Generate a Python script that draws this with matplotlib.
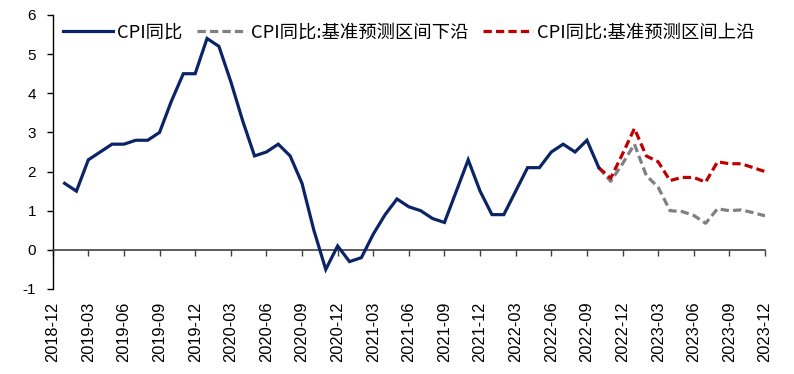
import matplotlib
matplotlib.use("Agg")
import matplotlib.pyplot as plt
import numpy as np
import pandas as pd

# ---- data ----
axis_start = "2018-12"
axis_end = "2023-12"
cpi_start = "2019-01"
cpi_yoy = [1.7, 1.5, 2.3, 2.5, 2.7, 2.7, 2.8, 2.8, 3.0, 3.8, 4.5, 4.5,
           5.4, 5.2, 4.3, 3.3, 2.4, 2.5, 2.7, 2.4, 1.7, 0.5, -0.5, 0.1,
           -0.3, -0.2, 0.4, 0.9, 1.3, 1.1, 1.0, 0.8, 0.7, 1.5, 2.3, 1.5,
           0.9, 0.9, 1.5, 2.1, 2.1, 2.5, 2.7, 2.5, 2.8, 2.1]
fc_start = "2022-10"
fc_lower = [2.1, 1.75, 2.2, 2.7, 1.9, 1.6, 1.0, 0.98, 0.88, 0.68, 1.05, 1.0, 1.02, 0.95, 0.87]
fc_upper = [2.1, 1.83, 2.45, 3.1, 2.4, 2.25, 1.77, 1.85, 1.85, 1.73, 2.25, 2.2, 2.2, 2.1, 2.0]
series_names = ["CPI同比", "CPI同比:基准预测区间下沿", "CPI同比:基准预测区间上沿"]
y_ticks = [-1, 0, 1, 2, 3, 4, 5, 6]

months = pd.period_range(axis_start, axis_end, freq="M")
month_pos = {str(p): i for i, p in enumerate(months)}

def xs(start, n):
    s = month_pos[start]
    return np.arange(s, s + n)

fig = plt.figure(figsize=(7.94, 3.74), dpi=100)
ax = fig.add_axes([52.7 / 794, 1 - 289 / 374, (765 - 52.7) / 794, (289 - 15) / 374])

lw = 2.3
ax.plot(xs(cpi_start, len(cpi_yoy)), cpi_yoy, color="#0A2466", lw=lw,
        solid_joinstyle="miter", label=series_names[0], zorder=3)
ax.plot(xs(fc_start, len(fc_lower)), fc_lower, color="#808080", lw=lw,
        linestyle=(0, (2.6, 1.3)), label=series_names[1], zorder=2)
ax.plot(xs(fc_start, len(fc_upper)), fc_upper, color="#C00000", lw=lw,
        linestyle=(0, (2.6, 1.3)), label=series_names[2], zorder=2)

ax.set_xlim(0, len(months) - 1)
ax.set_ylim(-1, 6)
ax.set_yticks(y_ticks)
ax.set_yticklabels([str(v) for v in y_ticks], fontfamily="Liberation Sans", fontsize=11)
ax.tick_params(axis="y", direction="out", length=4, width=1, pad=8, color="black")

ax.spines["top"].set_visible(False)
ax.spines["right"].set_visible(False)
ax.spines["left"].set_color("black")
ax.spines["left"].set_linewidth(1)
ax.spines["bottom"].set_position(("data", 0))
ax.spines["bottom"].set_color("#404040")
ax.spines["bottom"].set_linewidth(1.2)

tick_idx = list(range(0, len(months), 3))
tick_labels = [str(months[i]) for i in tick_idx]
ax.set_xticks(tick_idx)
ax.tick_params(axis="x", direction="out", length=4, width=1, color="#404040",
               labelbottom=False)

sec = ax.secondary_xaxis(0.0)
sec.set_xticks(tick_idx)
sec.set_xticklabels(tick_labels, rotation=90, fontfamily="Liberation Sans", fontsize=11.8)
sec.tick_params(axis="x", length=0, pad=9)
sec.spines["bottom"].set_visible(False)

leg = ax.legend(loc="upper left", bbox_to_anchor=(0.0145, 0.97), ncol=3, frameon=False,
                prop={"family": ["Noto Sans CJK SC", "DejaVu Sans"], "size": 13.2},
                handlelength=2.73, handletextpad=0.2, columnspacing=0.82,
                borderpad=0, borderaxespad=0)

fig.savefig("out.png", dpi=100)
